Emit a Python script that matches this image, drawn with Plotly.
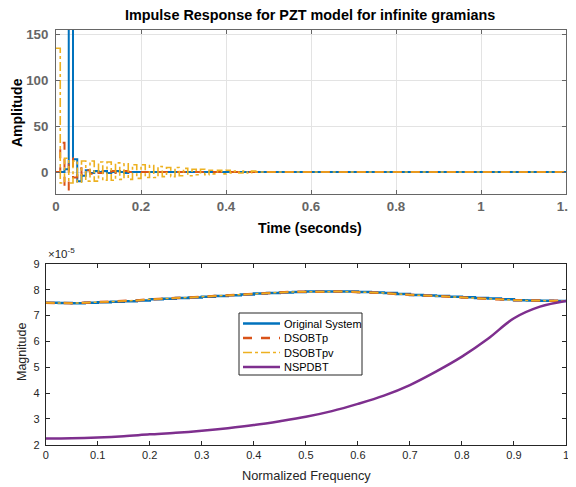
import plotly.graph_objects as go

# ---------------- Data ----------------
# Impulse response (sample time dt, values held between samples)
dt = 0.01
imp_original = [0, 0, 3, 300, 14, -10, -4, 2, -1, 1, 0, 1, -1, 0, 1, 0, -1, 0, 0, 0]
imp_dsobtp = [0, 32, -30, 15, -6, 4, -3, 2, -2, 1, -1, 1, -1, 1, -1, 0, 1, 0, 0, 0]
imp_dsobtpv = [135, -12, 15, -12, 12, -11, 12, -10, 12, -10, 11, -9, 11, -9, 10, -8,
               9, -8, 8, -7, 8, -6, 7, -6, 6, -5, 5, -5, 5, -4, 4, -4, 3, -3, 3, -3,
               2, -2, 2, -2, 2, -1, 1, -1, 1, -1, 1, 0]
t_end = 1.2

# Frequency response magnitude (x 1e-5)
freq_fine = [i * 0.025 for i in range(41)]
mag_original = [7.50, 7.49, 7.48, 7.50, 7.52, 7.54, 7.56, 7.59, 7.63, 7.65, 7.68, 7.70,
                7.73, 7.76, 7.79, 7.82, 7.86, 7.88, 7.90, 7.92, 7.93, 7.93, 7.93, 7.93,
                7.92, 7.90, 7.88, 7.84, 7.80, 7.78, 7.76, 7.73, 7.71, 7.68, 7.66, 7.63,
                7.60, 7.59, 7.58, 7.57, 7.57]
mag_dsobtp = mag_original
mag_dsobtpv = mag_original
freq_coarse = [i * 0.05 for i in range(21)]
mag_nspdbt = [2.24, 2.25, 2.28, 2.33, 2.40, 2.46, 2.54, 2.64, 2.76, 2.91, 3.08, 3.30,
              3.58, 3.90, 4.31, 4.83, 5.41, 6.10, 6.90, 7.35, 7.57]
legend_names = ["Original System", "DSOBTp", "DSOBTpv", "NSPDBT"]

# ---------------- Styling ----------------
BLUE = "#0072BD"
ORANGE = "#D95319"
YELLOW = "#EDB120"
PURPLE = "#7E2F8E"
FONT = "Liberation Sans"
OFF = 8            # page body margin
W, H = 576, 487 - OFF


def px(x):
    return (x - OFF) / W


def py(y):
    return 1 - (y - OFF) / H


def series(vals):
    n = int(round(t_end / dt))
    v = list(vals) + [0] * (n + 1 - len(vals))
    t = [k * dt for k in range(len(v))]
    return t, v


fig = go.Figure()

# Top: impulse responses
for vals, color, dash, width in [
    (imp_original, BLUE, "solid", 2),
    (imp_dsobtp, ORANGE, "dash", 2),
    (imp_dsobtpv, YELLOW, "dashdot", 1.6),
]:
    t, v = series(vals)
    fig.add_trace(go.Scatter(x=t, y=v, mode="lines", line=dict(color=color, dash=dash, width=width, shape="hv"),
                             xaxis="x", yaxis="y", showlegend=False))

# Bottom: magnitude
bottom_styles = [
    (freq_fine, mag_original, dict(color=BLUE, width=2.5, shape="hv")),
    (freq_fine, mag_dsobtp, dict(color=ORANGE, width=2.5, dash="dash")),
    (freq_fine, mag_dsobtpv, dict(color=YELLOW, width=1.5, dash="dashdot")),
    (freq_coarse, mag_nspdbt, dict(color=PURPLE, width=2.5, shape="spline")),
]
for (fx, mv, ln), name in zip(bottom_styles, legend_names):
    fig.add_trace(go.Scatter(x=fx, y=[m * 1e-5 for m in mv], mode="lines", name=name, line=ln,
                             xaxis="x2", yaxis="y2", showlegend=False))

top_x = [px(56), px(566)]
top_y = [py(194), py(30)]
bot_x = [px(45.7), px(566)]
bot_y = [py(444.7), py(264)]

axis_top_common = dict(showline=True, linecolor="#666666", linewidth=1, mirror="ticks",
                       ticks="inside", ticklen=4, tickcolor="#666666", automargin=False,
                       showgrid=True, gridcolor="#e3e3e3", gridwidth=1, zeroline=False,
                       ticklabeloverflow="allow",
                       tickfont=dict(family=FONT, size=13.3, color="#666666", weight="bold"))
axis_bot_common = dict(showline=True, linecolor="#262626", linewidth=1, mirror="ticks",
                       ticks="inside", ticklen=4, tickcolor="#262626", automargin=False,
                       showgrid=False, zeroline=False, ticklabeloverflow="allow",
                       tickfont=dict(family=FONT, size=11, color="#262626"))

fig.update_layout(
    width=W, height=H,
    margin=dict(l=0, r=0, t=0, b=0),
    paper_bgcolor="white", plot_bgcolor="white",
    font=dict(family=FONT),
    showlegend=False,
    xaxis=dict(domain=top_x, anchor="y", range=[0, 1.2], tickvals=[0, 0.2, 0.4, 0.6, 0.8, 1, 1.2],
               ticktext=["0", "0.2", "0.4", "0.6", "0.8", "1", "1.2"], **axis_top_common),
    yaxis=dict(domain=top_y, anchor="x", range=[-24, 155], tickvals=[0, 50, 100, 150],
               ticklabelstandoff=4, **axis_top_common),
    xaxis2=dict(domain=bot_x, anchor="y2", range=[0, 1], tickvals=[i / 10 for i in range(11)],
                ticktext=["0", "0.1", "0.2", "0.3", "0.4", "0.5", "0.6", "0.7", "0.8", "0.9", "1"],
                **axis_bot_common),
    yaxis2=dict(domain=bot_y, anchor="x2", range=[2e-5, 9e-5], tickvals=[i * 1e-5 for i in range(2, 10)],
                ticktext=[str(i) for i in range(2, 10)], ticklabelstandoff=3, **axis_bot_common),
)

annotations = [
    dict(text="<b>Impulse Response for PZT model for infinite gramians</b>", x=px(310), y=py(15),
         font=dict(size=14.4, color="black")),
    dict(text="<b>Time (seconds)</b>", x=px(310), y=py(228), font=dict(size=14.2, color="black")),
    dict(text="<b>Amplitude</b>", x=px(17), y=py(113), textangle=-90, font=dict(size=14, color="black")),
    dict(text="Normalized Frequency", x=px(306), y=py(475), font=dict(size=12.8, color="#262626")),
    dict(text="Magnitude", x=px(22), y=py(352), textangle=-90, font=dict(size=12.5, color="#262626")),
    dict(text="×10<sup>-5</sup>", x=px(46), y=py(253), xanchor="left", font=dict(size=11.5, color="#262626")),
]
for a in annotations:
    a.setdefault("xanchor", "center")
    fig.add_annotation(xref="paper", yref="paper", showarrow=False, yanchor="middle",
                       font_family=FONT, **a)

# Legend box (MATLAB-style, compact)
lx0, lx1, ly0, ly1 = 239, 362, 313, 375
fig.add_shape(type="rect", xref="paper", yref="paper", x0=px(lx0), x1=px(lx1), y0=py(ly1), y1=py(ly0),
              line=dict(color="#262626", width=1), fillcolor="white", layer="above")
row_y = [323.5, 338, 352.5, 367]
for (fx, mv, ln), name, ry in zip(bottom_styles, legend_names, row_y):
    sl = dict(color=ln["color"], width=ln["width"], dash=ln.get("dash", "solid"))
    fig.add_shape(type="line", xref="paper", yref="paper", x0=px(243), x1=px(280),
                  y0=py(ry), y1=py(ry), line=sl, layer="above")
    fig.add_annotation(xref="paper", yref="paper", x=px(281.5), y=py(ry), xanchor="left", yanchor="middle",
                       text=name, showarrow=False, font=dict(family=FONT, size=11, color="black"))

fig.write_html("out.html")
